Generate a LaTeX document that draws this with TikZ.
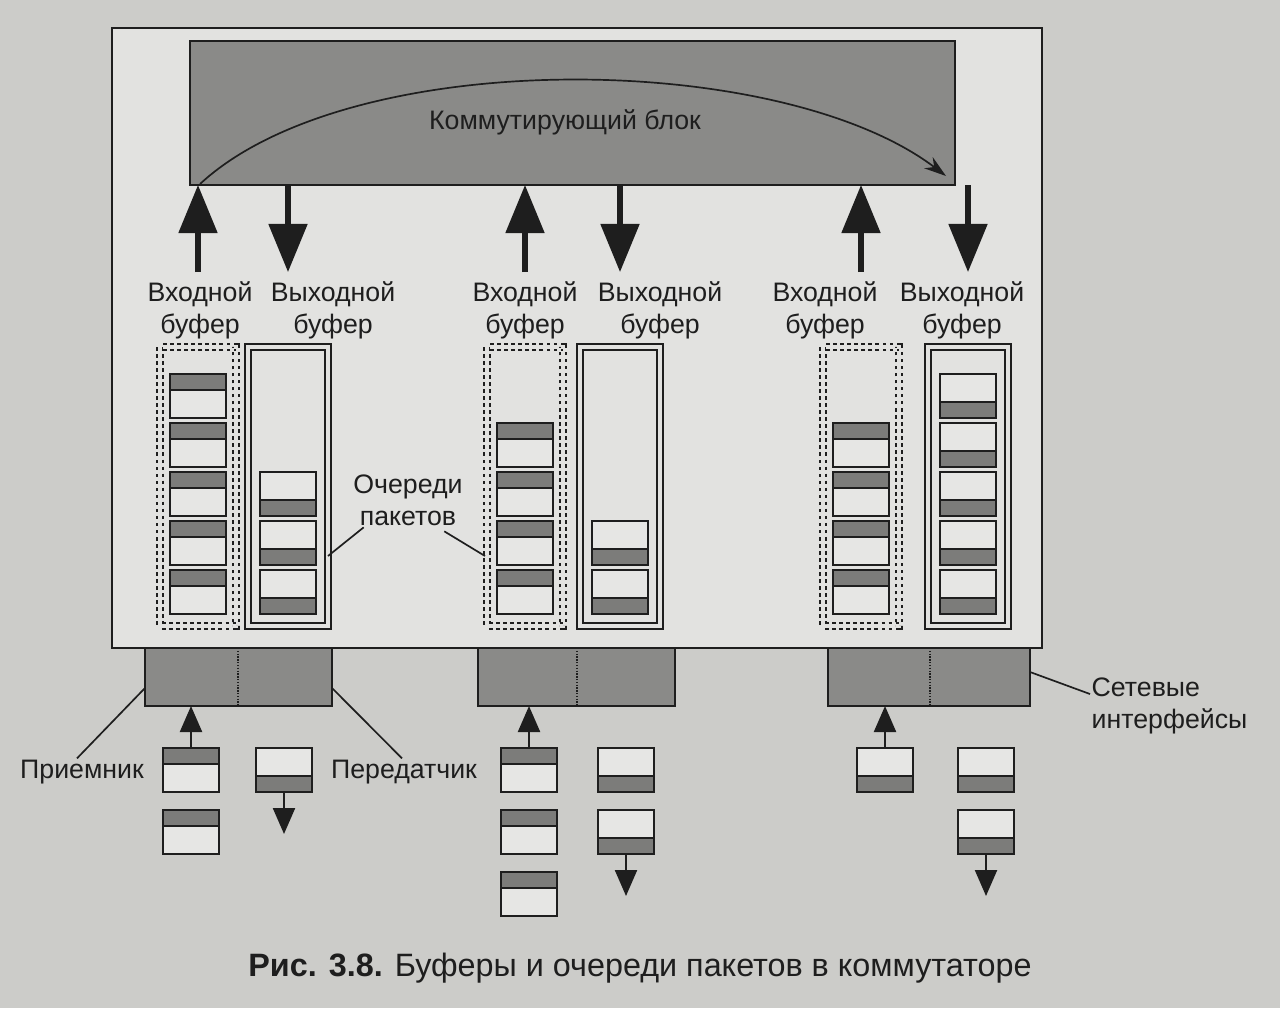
\documentclass[tikz,border=0pt]{standalone}
\usepackage{fontspec}
\setmainfont{Liberation Sans}
\usetikzlibrary{arrows.meta,calc}
\definecolor{paper}{RGB}{204,204,201}
\definecolor{panel}{RGB}{226,226,224}
\definecolor{block}{RGB}{138,138,136}
\definecolor{band}{RGB}{124,124,122}
\definecolor{cell}{RGB}{230,230,228}
\definecolor{ink}{RGB}{30,30,30}
\tikzset{
  bigarrow/.style={ink,line width=3.6pt,-{Triangle[width=0.95cm,length=1.2cm]}},
  smallarrow/.style={ink,line width=1.6pt,-{Triangle[width=0.55cm,length=0.65cm]}},
  lbl/.style={font=\fontsize{19}{23}\selectfont,align=center,text=ink,inner sep=1pt},
  inbuf/.style={draw=ink,line width=1.6pt,dash pattern=on 2.6pt off 2.4pt,double=panel,double distance=2.2pt},
  outbuf/.style={draw=ink,line width=1.2pt,double=panel,double distance=3pt},
  pkt/.style={draw=ink,line width=1.4pt},
}
% packet, header band on top / at bottom; #1,#2 = top left corner
\newcommand{\pkttop}[2]{%
  \draw[pkt,fill=cell] (#1,#2) rectangle ++(56,44);
  \draw[pkt,fill=band] (#1,#2) rectangle ++(56,16);}
\newcommand{\pktbot}[2]{%
  \draw[pkt,fill=cell] (#1,#2) rectangle ++(56,44);
  \draw[pkt,fill=band] (#1,#2+28) rectangle ++(56,16);}
\begin{document}
\begin{tikzpicture}[x=0.025cm,y=-0.025cm]
        \fill[paper] (0,0) rectangle (1280,1008);
        \useasboundingbox (0,0) rectangle (1280,1008);
        % switch
        \draw[ink,line width=1.5pt,fill=panel] (112,28) rectangle (1042,648);
        \draw[ink,line width=1.2pt,fill=block] (190,41) rectangle (955,185);
        \node[lbl] (swtxt) at (565,122) {Коммутирующий блок};
        \coordinate (swb) at (0,185);
        \coordinate (c0) at (200,184);
        \coordinate (c1) at (946,176);
        \draw[ink,line width=1.2pt,-{Stealth[length=0.55cm,width=0.35cm]}] (c0) .. controls (350,45) and (780,50) .. (c1);
        % buffers and arrows to the switching block
        \foreach \i/\xi/\xo in {1/160/248,2/487/580,3/823/928} {
            \draw[inbuf] (\xi,347) rectangle ++(76,279);
            \draw[outbuf] (\xo,347) rectangle ++(80,279);
            \coordinate (ai\i) at (\xi+38,272);
            \coordinate (ao\i) at (\xo+40,272);
            \draw[bigarrow] (ai\i) -- (ai\i |- swb);
            \draw[bigarrow] (ao\i |- swb) -- (ao\i);
        }
        \node[lbl,anchor=north] (in1) at (200,280) {Входной\\буфер};
        \node[lbl,anchor=north] (out1) at (333,280) {Выходной\\буфер};
        \node[lbl,anchor=north] (in2) at (525,280) {Входной\\буфер};
        \node[lbl,anchor=north] (out2) at (660,280) {Выходной\\буфер};
        \node[lbl,anchor=north] (in3) at (825,280) {Входной\\буфер};
        \node[lbl,anchor=north] (out3) at (962,280) {Выходной\\буфер};
        % queues
        \foreach \y in {374,423,...,570} {\pkttop{170}{\y}}
        \foreach \y in {472,521,570} {\pktbot{260}{\y}}
        \foreach \y in {423,472,...,570} {\pkttop{497}{\y}}
        \foreach \y in {521,570} {\pktbot{592}{\y}}
        \foreach \y in {423,472,...,570} {\pkttop{833}{\y}}
        \foreach \y in {374,423,...,570} {\pktbot{940}{\y}}
        \node[lbl] (och) at (408,500) {Очереди\\пакетов};
        \coordinate (q1) at (328,556);
        \coordinate (q2) at (485,556);
        \draw[ink,line width=1.2pt] ($(och.south west)+(12,0)$) -- (q1);
        \draw[ink,line width=1.2pt] ($(och.south east)+(-20,4)$) -- (q2);
        % network interfaces
        \foreach \xa/\xb/\xm in {145/332/238,478/675/577,828/1030/930} {
            \draw[ink,line width=1.2pt,fill=block] (\xa,648) rectangle (\xb,706);
            \draw[ink,line width=1pt,densely dotted] (\xm,648) -- (\xm,706);
        }
        \coordinate (if1w) at (145,688);
        \coordinate (if1e) at (332,688);
        \coordinate (if3e) at (1030,672);
        \coordinate (ifb) at (0,706);
        % packets on the lines
        \pkttop{163}{748} \pkttop{163}{810}
        \pktbot{256}{748}
        \pkttop{501}{748} \pkttop{501}{810} \pkttop{501}{872}
        \pktbot{598}{748} \pktbot{598}{810}
        \pktbot{857}{748}
        \pktbot{958}{748} \pktbot{958}{810}
        \coordinate (r1) at (191,748);
        \coordinate (r2) at (529,748);
        \coordinate (r3) at (885,748);
        \coordinate (t1) at (284,792);
        \coordinate (t2) at (626,854);
        \coordinate (t3) at (986,854);
        \foreach \r in {r1,r2,r3} {\draw[smallarrow] (\r) -- (\r |- ifb);}
        \foreach \t in {t1,t2,t3} {\draw[smallarrow] (\t) -- ++(0,42);}
        \node[lbl] (prm) at (82,772) {Приемник};
        \node[lbl] (pdt) at (404,772) {Передатчик};
        \node[lbl,anchor=west,align=left] (net) at (1090,706) {Сетевые\\интерфейсы};
        \draw[ink,line width=1.2pt] ($(prm.north)+(-5,0)$) -- (if1w);
        \draw[ink,line width=1.2pt] ($(pdt.north)+(-2,0)$) -- (if1e);
        \draw[ink,line width=1.2pt] ($(net.north west)!0.3!(net.south west)$) -- (if3e);
        % caption
        \node[font=\fontsize{23}{27}\selectfont,text=ink] (cap) at (640,968) {\textbf{Рис. 3.8.} Буферы и очереди пакетов в коммутаторе};
\end{tikzpicture}
\end{document}
